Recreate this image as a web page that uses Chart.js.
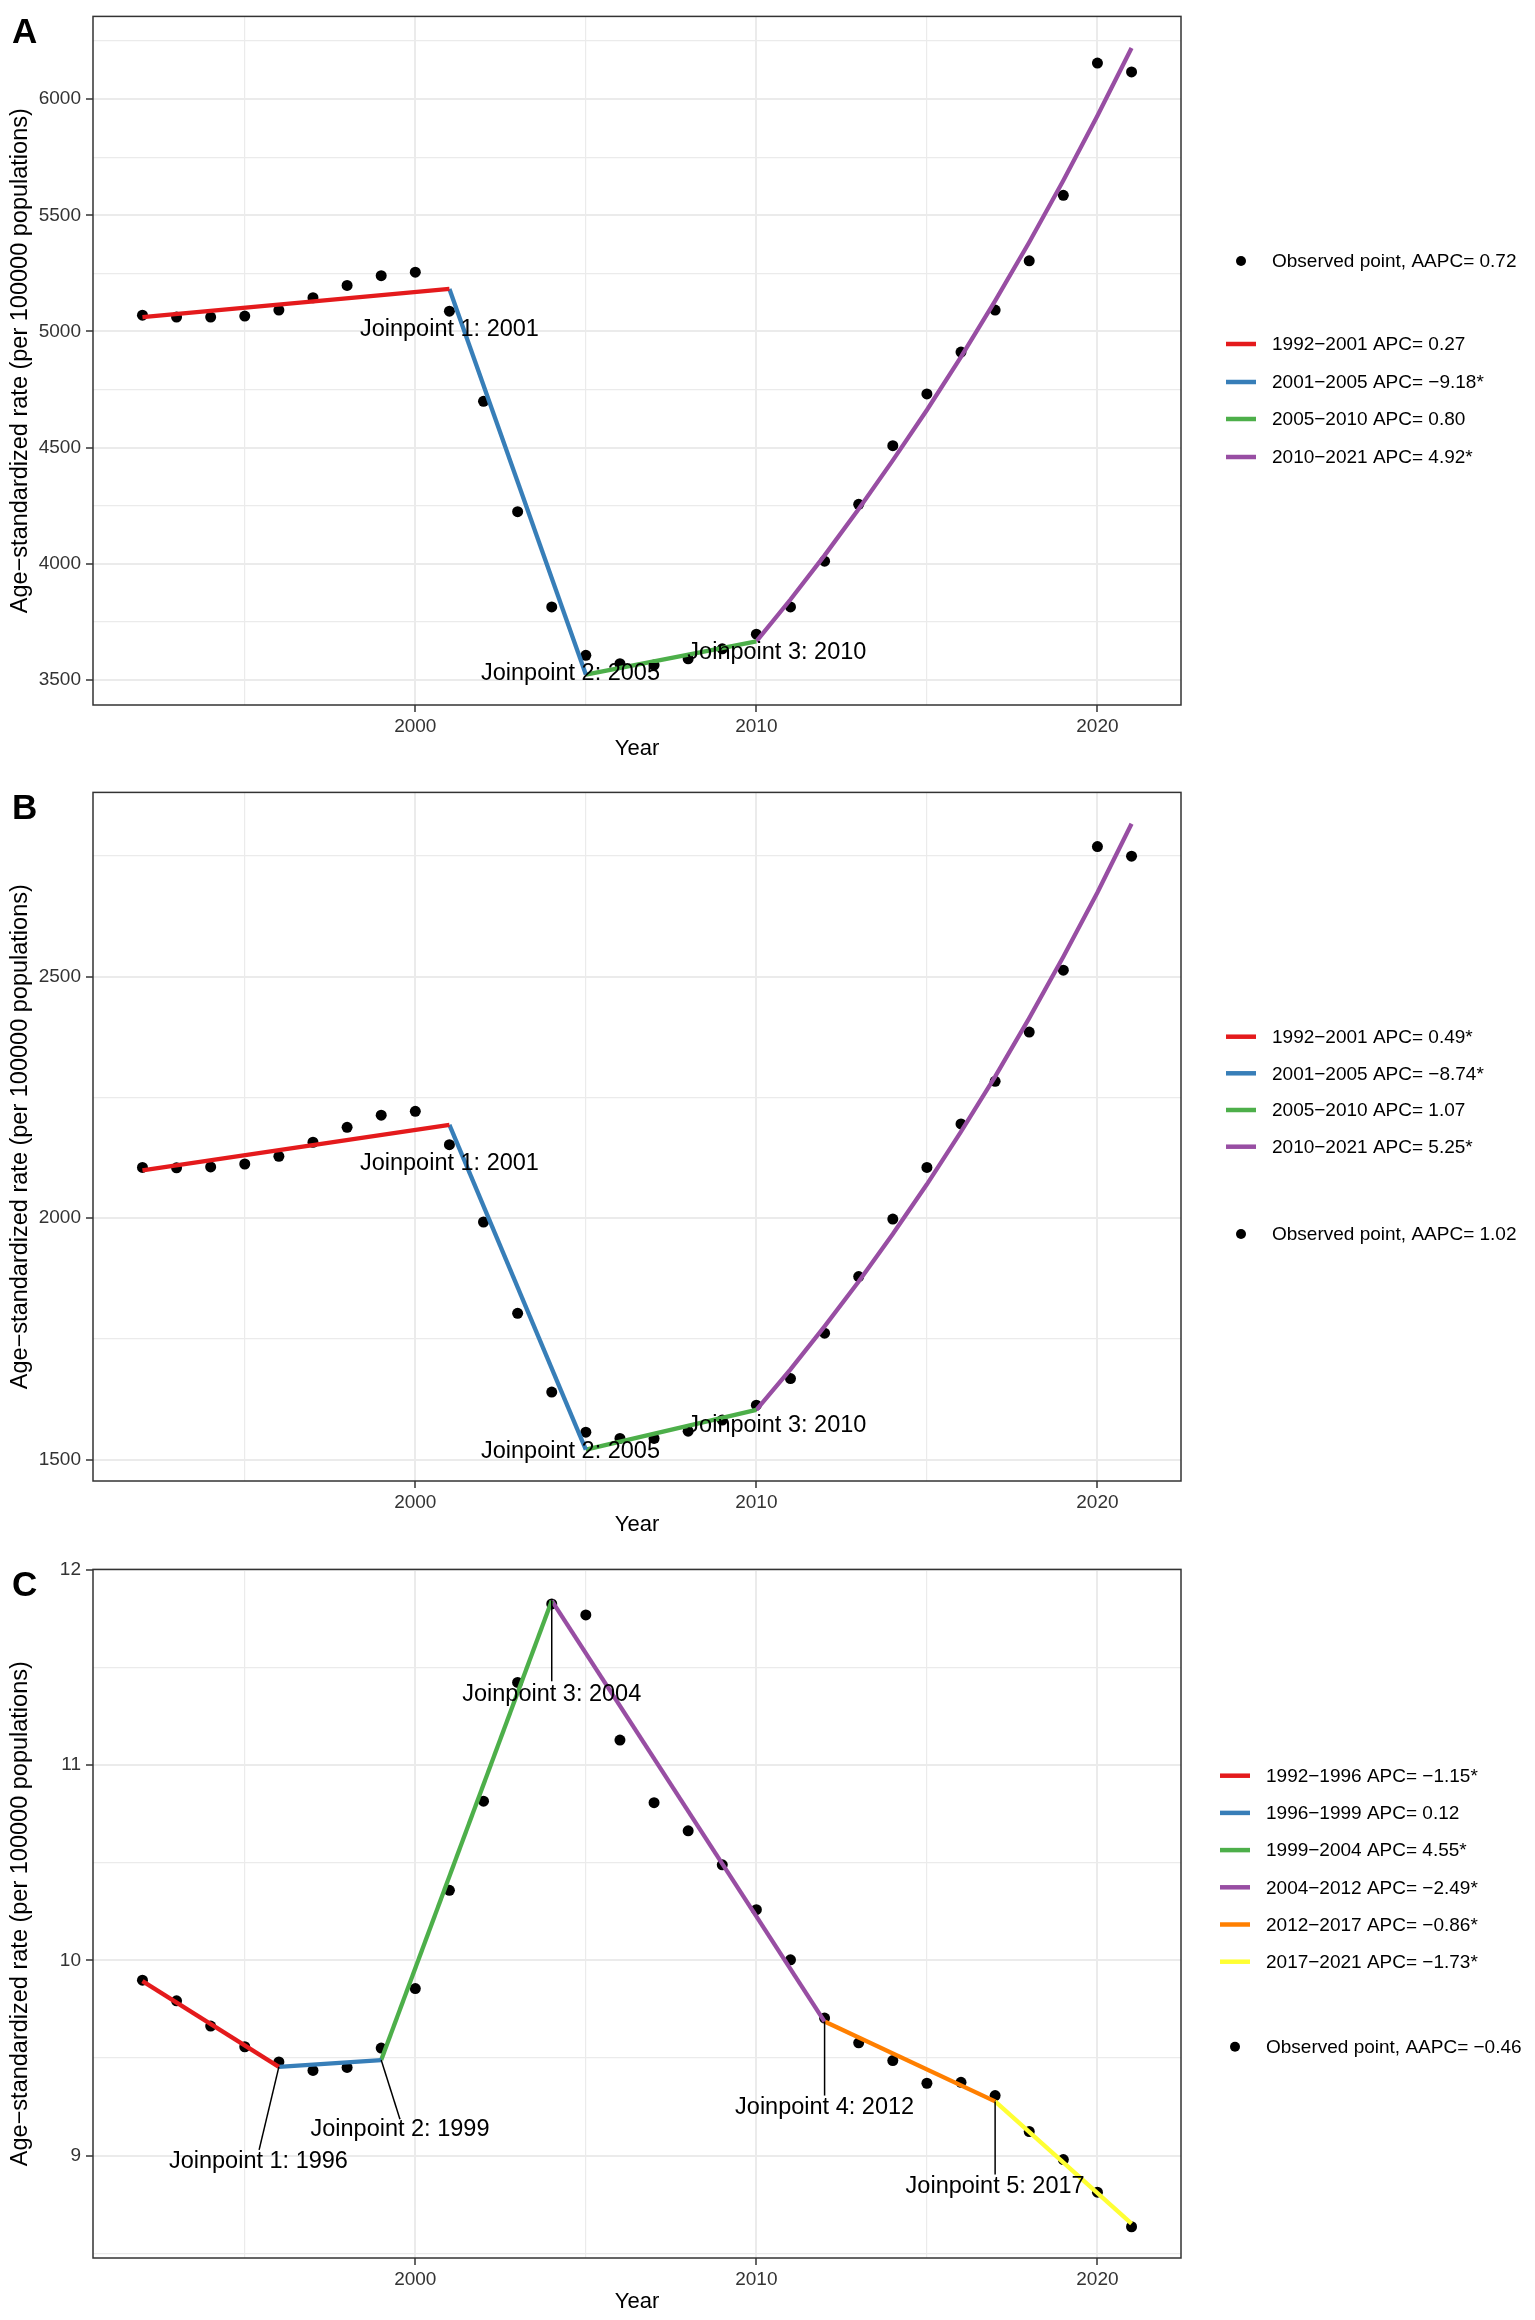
<!DOCTYPE html>
<html lang="en">
<head>
<meta charset="UTF-8">
<title>Joinpoint trends</title>
<script src="https://cdn.jsdelivr.net/npm/chart.js@4.4.1/dist/chart.umd.min.js"></script>
<style>
    body { margin: 0; background: #fff; }
    .panel { position: relative; width: 1535px; }
</style>
</head>
<body>
<div class="panel" style="height:776px"><canvas id="chartA"></canvas></div>
<div class="panel" style="height:777px"><canvas id="chartB"></canvas></div>
<div class="panel" style="height:767px"><canvas id="chartC"></canvas></div>
<script>
    var YEARS = [1992, 1993, 1994, 1995, 1996, 1997, 1998, 1999, 2000, 2001, 2002, 2003, 2004, 2005, 2006,
                 2007, 2008, 2009, 2010, 2011, 2012, 2013, 2014, 2015, 2016, 2017, 2018, 2019, 2020, 2021];
    var X_MAJOR = [2000, 2010, 2020];
    var X_MINOR = [1995, 2005, 2015];
    var SEG_COLORS = ['#E41A1C', '#377EB8', '#4DAF4A', '#984EA3', '#FF7F00', '#FFFF33'];

    // panel A
    var A_OBS = [5070, 5062, 5062, 5066, 5092, 5145, 5198, 5240, 5255, 5087, 4699, 4224, 3814, 3606, 3570,
                 3564, 3591, 3634, 3697, 3814, 4011, 4256, 4508, 4731, 4911, 5092, 5304, 5586, 6155, 6117];
    var A_SEG_YEARS = [[1992, 2001], [2001, 2005], [2005, 2010],
                       [2010, 2011, 2012, 2013, 2014, 2015, 2016, 2017, 2018, 2019, 2020, 2021]];
    var A_SEG_VALUES = [[5062, 5183], [5183, 3523], [3523, 3666],
                        [3666, 3846, 4036, 4236, 4445, 4662, 4890, 5131, 5384, 5650, 5928, 6220]];
    var A_SEG_LABELS = ['1992\u22122001 APC= 0.27', '2001\u22122005 APC= \u22129.18*',
                        '2005\u22122010 APC= 0.80', '2010\u22122021 APC= 4.92*'];
    var A_OBS_LABEL = 'Observed point, AAPC= 0.72';
    var A_Y_MAJOR = [3500, 4000, 4500, 5000, 5500, 6000];
    var A_Y_MINOR = [3750, 4250, 4750, 5250, 5750, 6250];
    var A_NOTE_TEXT = ['Joinpoint 1: 2001', 'Joinpoint 2: 2005', 'Joinpoint 3: 2010'];
    var A_NOTE_X = [2001.0, 2004.55, 2010.6];
    var A_NOTE_Y = [5008, 3529, 3618];

    // panel B
    var B_OBS = [2105, 2104, 2106, 2112, 2128, 2157, 2188, 2213, 2221, 2152, 1992, 1803, 1640, 1557, 1544,
                 1544, 1559, 1582, 1613, 1668, 1762, 1879, 1998, 2105, 2195, 2283, 2385, 2513, 2769, 2749];
    var B_SEG_YEARS = [[1992, 2001], [2001, 2005], [2005, 2010],
                       [2010, 2011, 2012, 2013, 2014, 2015, 2016, 2017, 2018, 2019, 2020, 2021]];
    var B_SEG_VALUES = [[2099, 2193], [2193, 1521], [1521, 1603],
                        [1603, 1687, 1776, 1869, 1967, 2070, 2179, 2293, 2414, 2541, 2674, 2816]];
    var B_SEG_LABELS = ['1992\u22122001 APC= 0.49*', '2001\u22122005 APC= \u22128.74*',
                        '2005\u22122010 APC= 1.07', '2010\u22122021 APC= 5.25*'];
    var B_OBS_LABEL = 'Observed point, AAPC= 1.02';
    var B_Y_MAJOR = [1500, 2000, 2500];
    var B_Y_MINOR = [1750, 2250, 2750];
    var B_NOTE_TEXT = ['Joinpoint 1: 2001', 'Joinpoint 2: 2005', 'Joinpoint 3: 2010'];
    var B_NOTE_X = [2001.0, 2004.55, 2010.6];
    var B_NOTE_Y = [2112, 1516, 1571];

    // panel C
    var C_OBS = [9.899, 9.793, 9.664, 9.558, 9.480, 9.437, 9.452, 9.551, 9.856, 10.359, 10.816, 11.424, 11.826, 11.770, 11.129,
                 10.808, 10.664, 10.490, 10.260, 10.003, 9.705, 9.578, 9.487, 9.371, 9.376, 9.308, 9.124, 8.980, 8.813, 8.636];
    var C_SEG_YEARS = [[1992, 1996], [1996, 1999], [1999, 2004], [2004, 2012], [2012, 2017], [2017, 2021]];
    var C_SEG_VALUES = [[9.894, 9.455], [9.455, 9.490], [9.490, 11.843], [11.843, 9.687], [9.687, 9.278], [9.278, 8.652]];
    var C_SEG_LABELS = ['1992\u22121996 APC= \u22121.15*', '1996\u22121999 APC= 0.12', '1999\u22122004 APC= 4.55*',
                        '2004\u22122012 APC= \u22122.49*', '2012\u22122017 APC= \u22120.86*', '2017\u22122021 APC= \u22121.73*'];
    var C_OBS_LABEL = 'Observed point, AAPC= \u22120.46';
    var C_Y_MAJOR = [9, 10, 11, 12];
    var C_Y_MINOR = [8.5, 9.5, 10.5, 11.5];
    var C_NOTE_TEXT = ['Joinpoint 1: 1996', 'Joinpoint 2: 1999', 'Joinpoint 3: 2004', 'Joinpoint 4: 2012', 'Joinpoint 5: 2017'];
    var C_NOTE_X = [1995.4, 1999.55, 2004.0, 2012.0, 2017.0];
    var C_NOTE_Y = [8.972, 9.136, 11.364, 9.245, 8.84];
    // leader lines: [joinpoint year, value, label end year, label end value]
    var C_LEADERS = [[1996, 9.455, 1995.42, 9.03], [1999, 9.49, 1999.55, 9.187], [2004, 11.843, 2004, 11.43],
                     [2012, 9.687, 2012, 9.308], [2017, 9.278, 2017, 8.904]];

    var FONT = '"Liberation Sans", Arial, Helvetica, sans-serif';
    Chart.defaults.font.family = FONT;

    var extras = {
        id: 'extras',
        afterDatasetsDraw: function(chart, args, opts) {
            var ctx = chart.ctx, xs = chart.scales.x, ys = chart.scales.y;
            ctx.save();
            ctx.strokeStyle = '#000';
            ctx.lineWidth = 1.5;
            (opts.leaders || []).forEach(function(l) {
                ctx.beginPath();
                ctx.moveTo(xs.getPixelForValue(l[0]), ys.getPixelForValue(l[1]));
                ctx.lineTo(xs.getPixelForValue(l[2]), ys.getPixelForValue(l[3]));
                ctx.stroke();
            });
            ctx.font = '23.5px ' + FONT;
            ctx.fillStyle = '#000';
            ctx.textAlign = 'center';
            ctx.textBaseline = 'middle';
            opts.noteText.forEach(function(t, i) {
                ctx.fillText(t, xs.getPixelForValue(opts.noteX[i]), ys.getPixelForValue(opts.noteY[i]));
            });
            ctx.restore();
        },
        afterDraw: function(chart, args, opts) {
            var ctx = chart.ctx, a = chart.chartArea;
            ctx.save();
            // panel border
            ctx.strokeStyle = '#333';
            ctx.lineWidth = 1.5;
            ctx.strokeRect(a.left, a.top, a.right - a.left, a.bottom - a.top);
            // panel letter
            ctx.font = 'bold 35px ' + FONT;
            ctx.fillStyle = '#000';
            ctx.textAlign = 'left';
            ctx.textBaseline = 'alphabetic';
            ctx.fillText(opts.letter, 12, a.top + 26.5);
            // legend
            var lg = opts.legend;
            ctx.font = '19px ' + FONT;
            ctx.textBaseline = 'middle';
            chart.data.datasets.forEach(function(ds, i) {
                var y = lg.ys[i];
                if (ds.showLine) {
                    ctx.strokeStyle = ds.borderColor;
                    ctx.lineWidth = 4.5;
                    ctx.beginPath();
                    ctx.moveTo(lg.keyX, y);
                    ctx.lineTo(lg.keyX + 30, y);
                    ctx.stroke();
                } else {
                    ctx.fillStyle = '#000';
                    ctx.beginPath();
                    ctx.arc(lg.keyX + 15, y, 5, 0, Math.PI * 2);
                    ctx.fill();
                }
                ctx.fillStyle = '#000';
                ctx.fillText(ds.label, lg.textX, y + 1);
            });
            ctx.restore();
        }
    };

    function buildChart(id, p) {
        var datasets = [{
            label: p.obsLabel,
            data: YEARS.map(function(yr, i) { return {x: yr, y: p.obs[i]}; }),
            showLine: false,
            pointRadius: 5.5,
            pointBackgroundColor: '#000',
            pointBorderWidth: 0,
            order: 2
        }];
        p.segYears.forEach(function(yrs, k) {
            datasets.push({
                label: p.segLabels[k],
                data: yrs.map(function(yr, i) { return {x: yr, y: p.segValues[k][i]}; }),
                showLine: true,
                borderColor: SEG_COLORS[k],
                borderWidth: 4.3,
                pointRadius: 0,
                tension: 0,
                order: 1
            });
        });
        var legendYs = [p.legendYs.obs].concat(p.legendYs.segs);
        var majorY = p.yMajor;

        return new Chart(document.getElementById(id).getContext('2d'), {
            type: 'scatter',
            data: {datasets: datasets},
            options: {
                responsive: true,
                maintainAspectRatio: false,
                animation: false,
                layout: {padding: {top: 11, right: 354, bottom: 0, left: 0}},
                plugins: {
                    legend: {display: false},
                    tooltip: {enabled: false},
                    extras: {
                        letter: p.letter,
                        noteText: p.noteText, noteX: p.noteX, noteY: p.noteY,
                        leaders: p.leaders,
                        legend: {keyX: p.keyX, textX: p.textX, ys: legendYs}
                    }
                },
                scales: {
                    x: {
                        type: 'linear',
                        min: 1990.55,
                        max: 2022.45,
                        afterBuildTicks: function(s) {
                            s.ticks = X_MINOR.concat(X_MAJOR).sort().map(function(v) { return {value: v}; });
                        },
                        afterFit: function(s) { s.height = p.height - 705; },
                        border: {display: false},
                        grid: {
                            color: '#ebebeb',
                            lineWidth: function(c) { return c.tick && X_MAJOR.indexOf(c.tick.value) >= 0 ? 2 : 1.2; },
                            tickColor: function(c) { return c.tick && X_MAJOR.indexOf(c.tick.value) >= 0 ? '#333' : 'rgba(0,0,0,0)'; },
                            tickLength: 7,
                            tickWidth: 1.5
                        },
                        ticks: {
                            autoSkip: false,
                            maxRotation: 0,
                            padding: 3,
                            color: '#333',
                            font: {size: 19},
                            callback: function(v) { return X_MAJOR.indexOf(v) >= 0 ? String(v) : ''; }
                        },
                        title: {
                            display: true,
                            text: 'Year',
                            color: '#000',
                            font: {size: 22},
                            padding: {top: 0, bottom: p.height - 749 - 13.2}
                        }
                    },
                    y: {
                        type: 'linear',
                        min: p.yMin,
                        max: p.yMax,
                        afterBuildTicks: function(s) {
                            s.ticks = p.yMinor.concat(majorY).sort(function(a, b) { return a - b; })
                                .map(function(v) { return {value: v}; });
                        },
                        afterFit: function(s) { s.width = 93; },
                        border: {display: false},
                        grid: {
                            color: '#ebebeb',
                            lineWidth: function(c) { return c.tick && majorY.indexOf(c.tick.value) >= 0 ? 2 : 1.2; },
                            tickColor: function(c) { return c.tick && majorY.indexOf(c.tick.value) >= 0 ? '#333' : 'rgba(0,0,0,0)'; },
                            tickLength: 7,
                            tickWidth: 1.5
                        },
                        ticks: {
                            autoSkip: false,
                            padding: 5,
                            color: '#333',
                            font: {size: 19},
                            callback: function(v) { return majorY.indexOf(v) >= 0 ? String(v) : ''; }
                        },
                        title: {
                            display: true,
                            text: 'Age\u2212standardized rate (per 100000 populations)',
                            color: '#000',
                            font: {size: 23.5},
                            padding: {top: 6.4, bottom: 0}
                        }
                    }
                }
            },
            plugins: [extras]
        });
    }

    window.onload = function() {
        buildChart('chartA', {
            letter: 'A', height: 776,
            obs: A_OBS, segYears: A_SEG_YEARS, segValues: A_SEG_VALUES, segLabels: A_SEG_LABELS, obsLabel: A_OBS_LABEL,
            yMin: 3392, yMax: 6356, yMajor: A_Y_MAJOR, yMinor: A_Y_MINOR,
            noteText: A_NOTE_TEXT, noteX: A_NOTE_X, noteY: A_NOTE_Y, leaders: [],
            keyX: 1226, textX: 1272,
            legendYs: {obs: 261, segs: [344, 382, 419, 457]}
        });
        buildChart('chartB', {
            letter: 'B', height: 777,
            obs: B_OBS, segYears: B_SEG_YEARS, segValues: B_SEG_VALUES, segLabels: B_SEG_LABELS, obsLabel: B_OBS_LABEL,
            yMin: 1456, yMax: 2881, yMajor: B_Y_MAJOR, yMinor: B_Y_MINOR,
            noteText: B_NOTE_TEXT, noteX: B_NOTE_X, noteY: B_NOTE_Y, leaders: [],
            keyX: 1226, textX: 1272,
            legendYs: {obs: 458, segs: [260.7, 297.3, 334, 370.7]}
        });
        buildChart('chartC', {
            letter: 'C', height: 767,
            obs: C_OBS, segYears: C_SEG_YEARS, segValues: C_SEG_VALUES, segLabels: C_SEG_LABELS, obsLabel: C_OBS_LABEL,
            yMin: 8.476, yMax: 12.003, yMajor: C_Y_MAJOR, yMinor: C_Y_MINOR,
            noteText: C_NOTE_TEXT, noteX: C_NOTE_X, noteY: C_NOTE_Y, leaders: C_LEADERS,
            keyX: 1220, textX: 1266,
            legendYs: {obs: 493.7, segs: [222.7, 259.9, 297.1, 334.3, 371.5, 408.7]}
        });
    };
</script>
</body>
</html>
